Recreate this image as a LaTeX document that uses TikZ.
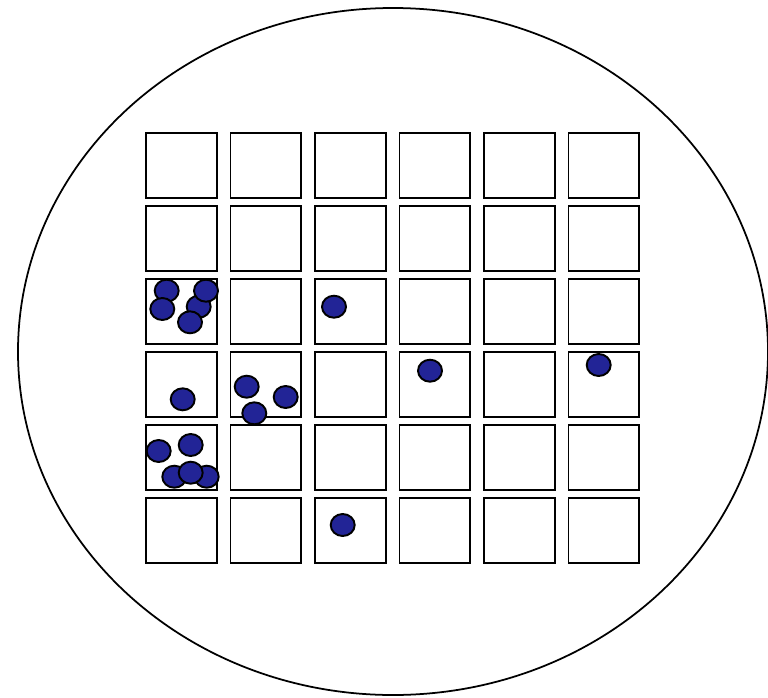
\documentclass[tikz,border=0pt]{standalone}
\usetikzlibrary{shapes.geometric}
\definecolor{dotblue}{RGB}{34,36,150}
\begin{document}
\begin{tikzpicture}[x=0.02cm,y=-0.02cm,
    cell/.style={draw,line width=1.1pt,minimum width=1.42cm,minimum height=1.3cm,inner sep=0pt,anchor=north west},
    dot/.style={ellipse,draw,line width=1.1pt,fill=dotblue,minimum width=0.48cm,minimum height=0.44cm,inner sep=0pt}]
    \useasboundingbox (0,0) rectangle (768,697);
    \draw[line width=1pt] (393,351.5) ellipse [x radius=375, y radius=343.5];
    \foreach \r in {1,...,6} \foreach \c in {1,...,6}
      \node[cell] (c\r\c) at ({145+84.5*(\c-1)},{132+73*(\r-1)}) {};
    % particles
    \foreach \n/\x/\y in {a/166.7/290.7, b/162.3/309, c/198.7/306.7, d/206/290.7, e/190/322.3,
                          f/182.7/399.3, g/246.7/386.7, h/285.7/397, i/254.3/413.3, j/334/306.7,
                          k/158.7/451, l/190.7/445, m/174.3/476.7, n/206.7/476.7, o/190.7/472.7,
                          p/342.7/525, q/430/370.7, r/598.7/365}
      \node[dot] (\n) at (\x,\y) {};
  \end{tikzpicture}
\end{document}
